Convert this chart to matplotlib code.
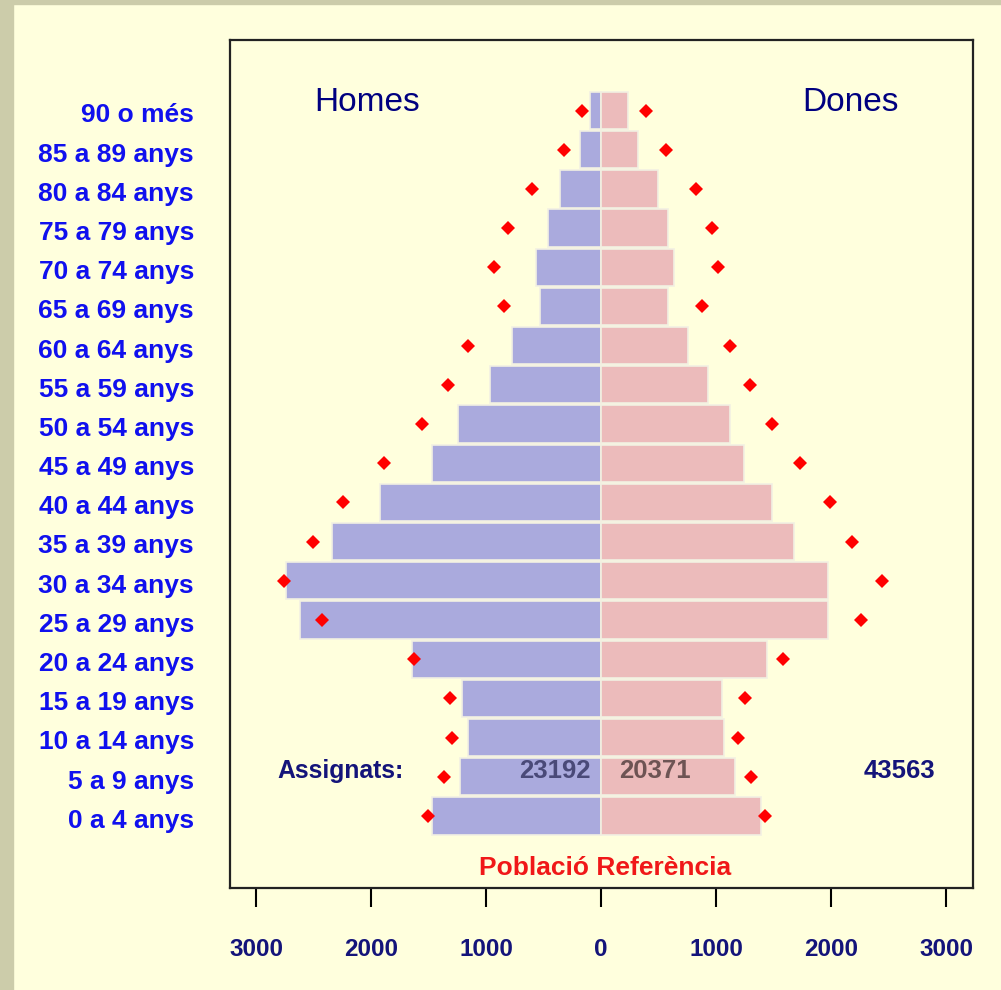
import matplotlib.pyplot as plt
from matplotlib.patches import Rectangle
import numpy as np

plt.rcParams['font.family'] = ['Liberation Sans', 'DejaVu Sans']

## Age groups, bottom to top
grups = ['0 a 4 anys', '5 a 9 anys', '10 a 14 anys', '15 a 19 anys', '20 a 24 anys',
         '25 a 29 anys', '30 a 34 anys', '35 a 39 anys', '40 a 44 anys', '45 a 49 anys',
         '50 a 54 anys', '55 a 59 anys', '60 a 64 anys', '65 a 69 anys', '70 a 74 anys',
         '75 a 79 anys', '80 a 84 anys', '85 a 89 anys', '90 o més']

## Assigned population
homes = [1470, 1226, 1157, 1209, 1643, 2617, 2739, 2339, 1922, 1470,
         1243, 965, 774, 530, 565, 461, 357, 183, 96]
dones = [1386, 1160, 1072, 1055, 1439, 1974, 1974, 1678, 1487, 1243,
         1122, 930, 757, 583, 635, 583, 497, 323, 235]

## Reference population (red diamonds)
ref_homes = [1508, 1369, 1299, 1316, 1630, 2432, 2757, 2504, 2243, 1887,
             1557, 1330, 1157, 843, 930, 809, 602, 323, 166]
ref_dones = [1421, 1299, 1194, 1247, 1578, 2258, 2443, 2183, 1991, 1730,
             1487, 1296, 1122, 878, 1017, 965, 828, 567, 392]

total_homes = 23192
total_dones = 20371
total = 43563

xticks = [-3000, -2000, -1000, 0, 1000, 2000, 3000]

bg = '#FFFFDD'
navy = '#14147A'

fig = plt.figure(figsize=(10.01, 9.9), dpi=100, facecolor=bg)
## grey frame strips top / left
fig.patches.append(Rectangle((0, 0), 13 / 1001, 1, transform=fig.transFigure,
                             color='#CCCCAA', zorder=0))
fig.patches.append(Rectangle((0, 1 - 4 / 990), 1, 4 / 990, transform=fig.transFigure,
                             color='#CCCCAA', zorder=0))

ax = fig.add_axes([230 / 1001, 1 - 888 / 990, 743 / 1001, 848 / 990])
ax.set_facecolor(bg)

y = np.arange(len(grups))
ax.barh(y, -np.array(homes), height=0.95, color='#AAAADD', edgecolor='#F2F0E2', linewidth=1.2)
ax.barh(y, dones, height=0.95, color='#ECBBBB', edgecolor='#F2F0E2', linewidth=1.2)
ax.plot(-np.array(ref_homes), y, 'D', color='#FF0000', markersize=7, markeredgewidth=0)
ax.plot(ref_dones, y, 'D', color='#FF0000', markersize=7, markeredgewidth=0)

ax.set_xlim(-3230, 3235)
ax.set_ylim(-1.84, 19.8)

ax.set_yticks(y - 0.06)
ax.set_yticklabels(grups, fontsize=19, fontweight='bold', color='#1010EE')
ax.tick_params(axis='y', length=0, pad=26)

ax.set_xticks(xticks)
ax.set_xticklabels([str(abs(t)) for t in xticks], fontsize=17.5, fontweight='bold', color=navy)
ax.tick_params(axis='x', length=14, width=1.5, pad=22, color='black')

for s in ax.spines.values():
    s.set_linewidth(1.6)
    s.set_color('#222222')

## Labels inside the plot
ax.text(-2040, 18.2, 'Homes', fontsize=24, color='#000080', ha='center', va='center')
ax.text(2171, 18.2, 'Dones', fontsize=24, color='#000080', ha='center', va='center')
ax.text(-2816, 1.15, 'Assignats:', fontsize=17.8, fontweight='bold', color=navy, ha='left', va='center')
ax.text(-401, 1.15, str(total_homes), fontsize=18.5, fontweight='bold', color='#4A4A78', ha='center', va='center')
ax.text(471, 1.15, str(total_dones), fontsize=18.5, fontweight='bold', color='#6E5454', ha='center', va='center')
ax.text(2598, 1.15, str(total), fontsize=18.5, fontweight='bold', color=navy, ha='center', va='center')
ax.text(35, -1.33, 'Població Referència', fontsize=19, fontweight='bold', color='#F01818',
        ha='center', va='center')

fig.savefig('out.png', dpi=100, facecolor=bg)
